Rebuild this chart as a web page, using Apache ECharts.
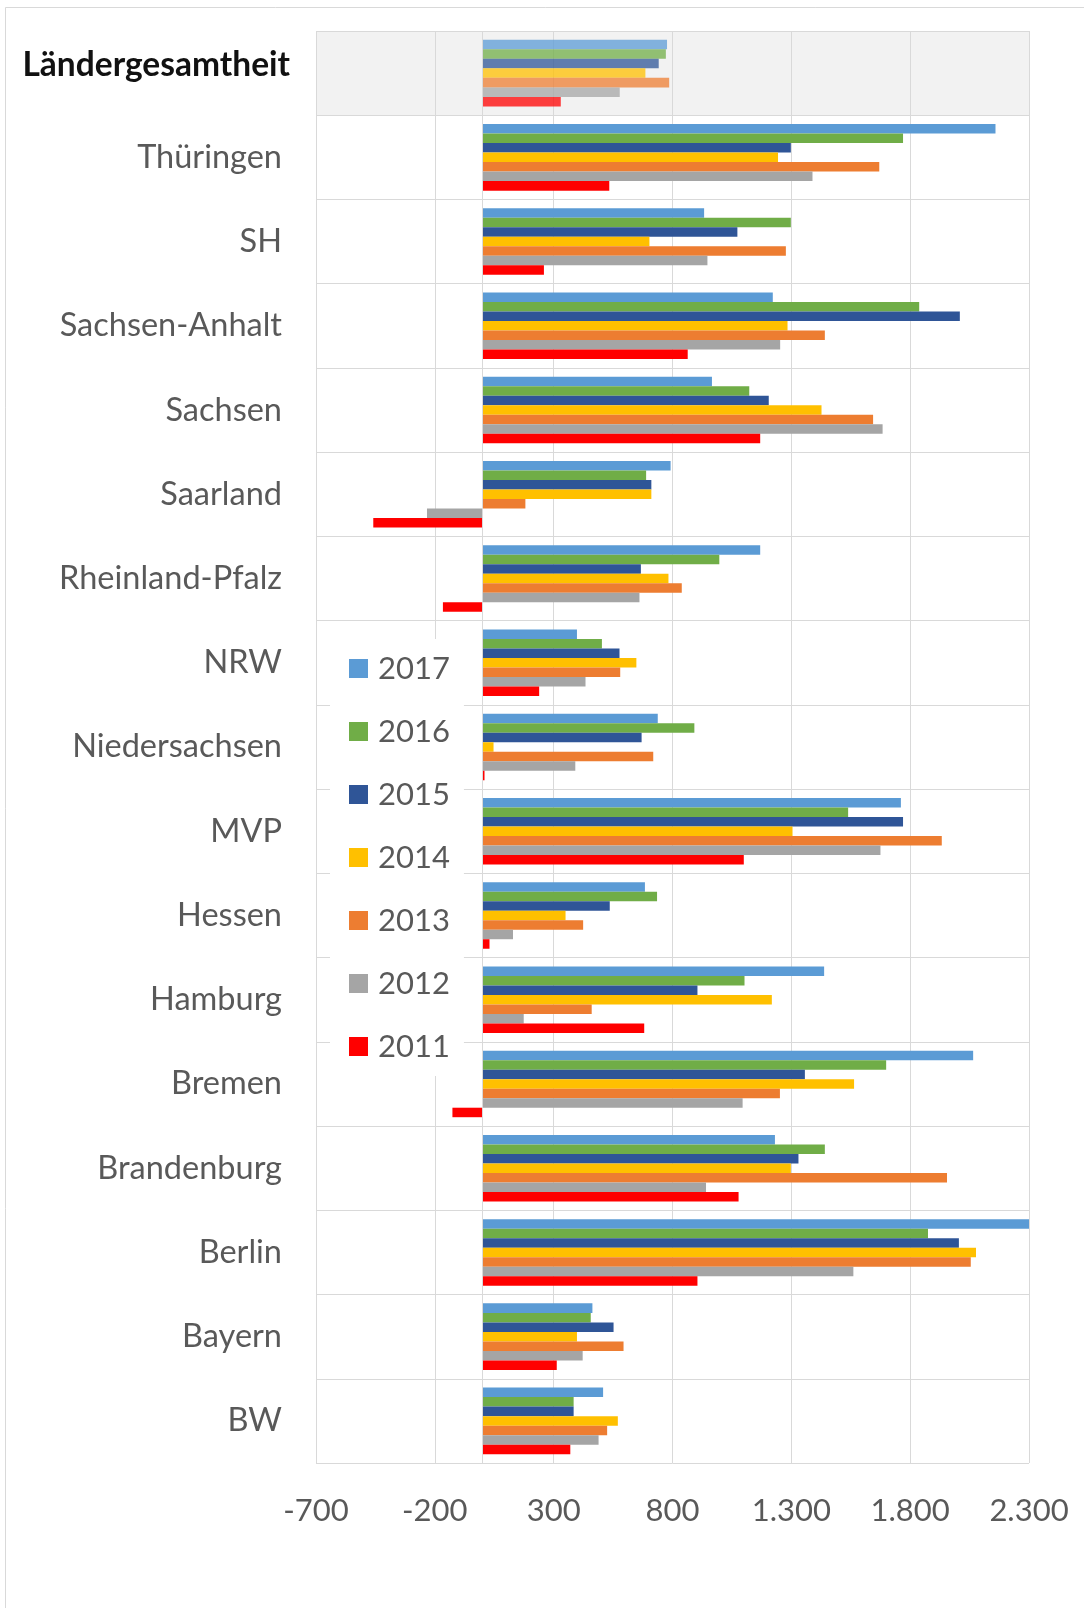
<!DOCTYPE html>
<html>
<head>
<meta charset="utf-8">
<script src="https://cdn.jsdelivr.net/npm/echarts@6/dist/echarts.min.js"></script>
<style>
  html, body { margin: 0; padding: 0; background: #fff; }
  #chart { width: 1084px; height: 1608px; }
</style>
</head>
<body>
<div id="chart"></div>
<script>
const categories = ["Ländergesamtheit", "Thüringen", "SH", "Sachsen-Anhalt", "Sachsen", "Saarland",
  "Rheinland-Pfalz", "NRW", "Niedersachsen", "MVP", "Hessen", "Hamburg", "Bremen",
  "Brandenburg", "Berlin", "Bayern", "BW"];
const years = ["2017", "2016", "2015", "2014", "2013", "2012", "2011"];

const v2017 = [777, 2159, 933, 1222, 966, 792, 1169, 398, 738, 1761, 684, 1438, 2065, 1231, 2330, 463, 508];
const v2016 = [772, 1770, 1298, 1838, 1123, 689, 997, 503, 892, 1539, 735, 1103, 1699, 1441, 1875, 456, 384];
const v2015 = [742, 1298, 1073, 2009, 1205, 711, 667, 577, 670, 1770, 536, 905, 1357, 1330, 2005, 552, 384];
const v2014 = [686, 1244, 703, 1284, 1427, 711, 783, 648, 47, 1305, 350, 1218, 1564, 1298, 2077, 398, 570];
const v2013 = [786, 1670, 1277, 1441, 1644, 181, 839, 580, 719, 1933, 424, 460, 1252, 1955, 2055, 594, 525];
const v2012 = [578, 1389, 947, 1253, 1684, -233, 661, 434, 391, 1675, 129, 174, 1095, 941, 1561, 422, 489];
const v2011 = [330, 534, 259, 864, 1169, -459, -166, 239, 9, 1100, 30, 681, -126, 1078, 905, 313, 370];

const values = [v2017, v2016, v2015, v2014, v2013, v2012, v2011];
const colors = ["#5B9BD5", "#70AD47", "#2F5597", "#FFC000", "#ED7D31", "#A5A5A5", "#FF0000"];

const font = "Lato";
const grey = "#D9D9D9";

// German thousands separator: 1300 -> "1.300"
function fmt(v) {
  const s = String(Math.abs(v)).replace(/\B(?=(\d{3})+(?!\d))/g, ".");
  return (v < 0 ? "-" : "") + s;
}

const chart = echarts.init(document.getElementById("chart"));

const series = years.map((y, i) => ({
  name: y,
  type: "bar",
  barGap: "0%",
  barCategoryGap: "21%",
  itemStyle: { color: colors[i] },
  // the summary row is drawn paler
  data: values[i].map((v, j) => j === 0 ? { value: v, itemStyle: { opacity: 0.75 } } : v)
}));

series[0].markLine = {
  silent: true,
  symbol: "none",
  label: { show: false },
  lineStyle: { color: grey, type: "solid", width: 1 },
  data: [{ xAxis: 0 }]
};

chart.setOption({
  backgroundColor: "#fff",
  animation: false,
  color: colors,
  graphic: [{
    type: "rect",
    shape: { x: 5.5, y: 7.5, width: 1200, height: 1800 },
    style: { fill: "none", stroke: grey, lineWidth: 1 },
    silent: true
  }],
  grid: { left: 316, right: 55, top: 31, bottom: 145, containLabel: false },
  legend: {
    data: years,
    orient: "vertical",
    left: 330,
    top: 639,
    padding: [14, 14, 14, 19],
    backgroundColor: "#fff",
    icon: "rect",
    itemWidth: 19,
    itemHeight: 19,
    itemGap: 32,
    selectedMode: false,
    textStyle: { fontFamily: font, fontSize: 31, color: "#595959", padding: [0, 0, 0, 5] }
  },
  xAxis: {
    type: "value",
    min: -700,
    max: 2300,
    interval: 500,
    axisLine: { show: false },
    axisTick: { show: false },
    splitLine: { show: true, lineStyle: { color: grey, width: 1 } },
    axisLabel: {
      margin: 32,
      fontFamily: font,
      fontSize: 31,
      color: "#595959",
      formatter: fmt
    }
  },
  yAxis: {
    type: "category",
    data: categories,
    inverse: true,
    axisLine: { show: false },
    axisTick: { show: false },
    splitLine: { show: true, interval: 0, lineStyle: { color: grey, width: 1 } },
    splitArea: {
      show: true,
      interval: 0,
      areaStyle: { color: categories.map((c, i) => i === 0 ? "#F2F2F2" : "rgba(255,255,255,0)") }
    },
    axisLabel: {
      margin: 26,
      interval: 0,
      formatter: (v, i) => i === 0 ? "{b|" + v + "}" : "{n|" + v + "}",
      rich: {
        n: { fontFamily: font, fontSize: 32.5, color: "#595959", padding: [0, 8, 0, 0] },
        b: { fontFamily: font, fontSize: 33.5, fontWeight: "bold", color: "#111", padding: [0, 0, 16, 0] }
      }
    }
  },
  series: series
});
</script>
</body>
</html>
